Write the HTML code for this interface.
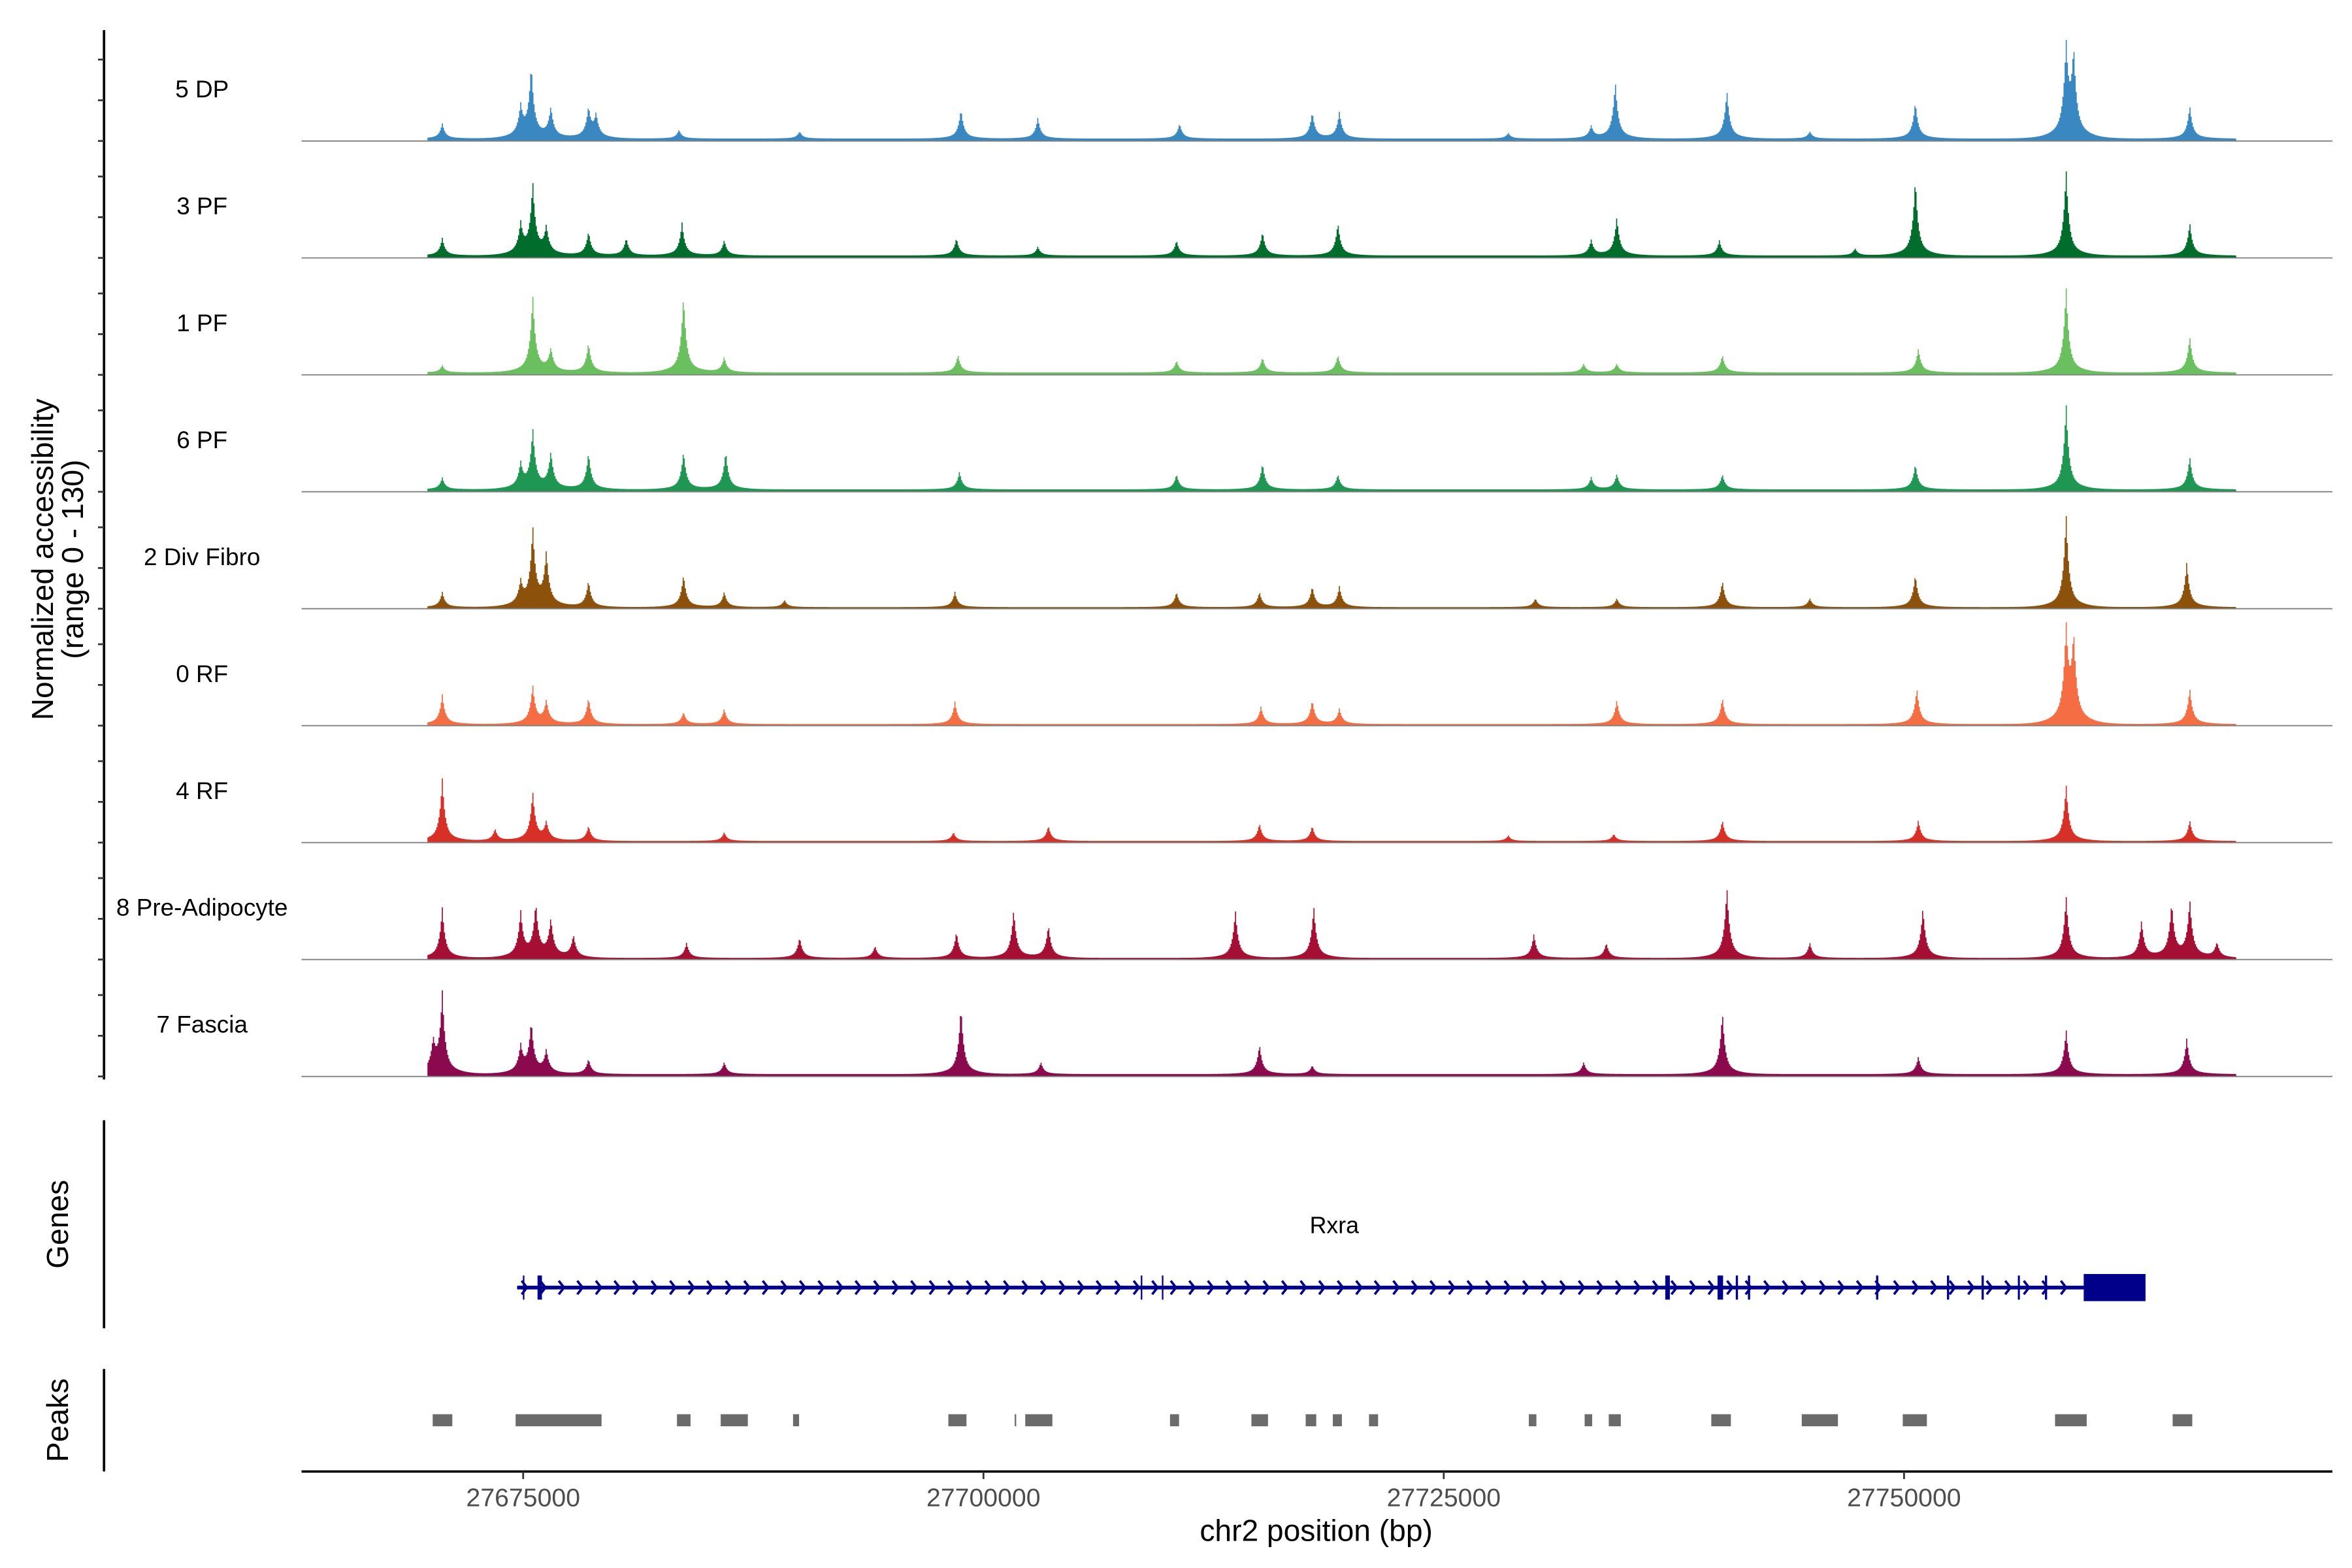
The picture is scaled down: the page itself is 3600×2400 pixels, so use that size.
<!DOCTYPE html>
<html><head><meta charset="utf-8"><style>
html,body{margin:0;padding:0;background:#fff}
svg{display:block}
text{font-family:"Liberation Sans",Arial,sans-serif}
</style></head><body>
<svg id="chart" xmlns="http://www.w3.org/2000/svg" width="3600" height="2400" viewBox="0 0 1560 1040" preserveAspectRatio="none">
<g id="tracks"></g>
<g id="yaxis"></g>
<text transform="translate(35,371) rotate(-90)" text-anchor="middle" font-size="20">Normalized accessibility</text>
<text transform="translate(55,371) rotate(-90)" text-anchor="middle" font-size="20">(range 0 - 130)</text>
<g id="genes"></g>
<text transform="translate(45,812) rotate(-90)" text-anchor="middle" font-size="20">Genes</text>
<line x1="69" y1="743" x2="69" y2="881" stroke="#000" stroke-width="1.6"/>
<g id="peaks"></g>
<text transform="translate(45,942) rotate(-90)" text-anchor="middle" font-size="20">Peaks</text>
<line x1="69" y1="908" x2="69" y2="976" stroke="#000" stroke-width="1.6"/>
<g id="xaxis"></g>
<text x="873" y="1022" text-anchor="middle" font-size="20">chr2 position (bp)</text>
</svg>
<script>
// ---- data ----
const trackNames = ["5 DP","3 PF","1 PF","6 PF","2 Div Fibro","0 RF","4 RF","8 Pre-Adipocyte","7 Fascia"];
const trackColors = ["#3a88c2","#006d2c","#6abf5f","#1f9651","#8c510a","#f46d43","#d73027","#a50f34","#8b0a4e"];
const regionStart = 27668000;
const regionEnd = 27768300;
const xTicks = [27675000,27700000,27725000,27750000];
const yMax = 130;
// peak centres (bp) and heights (normalized accessibility) per track
const pos0 = [27670578,27675409,27674836,27676474,27678521,27678931,27683434,27689986,27698749,27702924,27710622,27717828,27719303,27734288,27732978,27740349,27750584,27758773,27759182,27765489,27728474,27744852];
const ht0  = [19,89,37,37,37,28,11,9,37,26,19,33,33,71,15,60,46,111,102,41,7,9];
const pos1 = [27670578,27675491,27674836,27676228,27678521,27680569,27683598,27685891,27698503,27702924,27710458,27715126,27719221,27734370,27732978,27739939,27750584,27758773,27765489,27747309];
const ht1  = [22,89,37,33,30,22,41,19,22,11,19,30,41,48,19,19,97,108,41,9];
const pos2 = [27670578,27675491,27676474,27678521,27683680,27685891,27698585,27710458,27715126,27719221,27732569,27734370,27740103,27750748,27758773,27765489];
const ht2  = [9,97,28,37,97,19,22,15,19,22,11,11,22,30,108,45];
const pos3 = [27670578,27675491,27674836,27676474,27678521,27683680,27685973,27698667,27710458,27715126,27719221,27732978,27734370,27740103,27750584,27758773,27765489];
const ht3  = [15,74,30,45,46,48,48,22,19,33,19,15,19,19,32,108,41];
const pos4 = [27670578,27675491,27676228,27674836,27678521,27683680,27685891,27689167,27698421,27710458,27714962,27717828,27719303,27729948,27734370,27740103,27750584,27758773,27765325,27744852];
const ht4  = [19,97,65,28,33,41,19,9,19,19,19,26,26,11,11,33,41,117,56,11];
const pos5 = [27670578,27675491,27676228,27678521,27683680,27685891,27698421,27715044,27717828,27719303,27734370,27740103,27750666,27758773,27759182,27765489];
const ht5  = [37,48,28,33,15,19,28,22,30,19,30,33,45,115,102,45];
const pos6 = [27670578,27673444,27675491,27676228,27678521,27685891,27698339,27703498,27714962,27717828,27728474,27734206,27740103,27750748,27758773,27765489];
const ht6  = [78,15,61,22,19,11,11,19,22,19,7,9,26,26,71,26];
const pos7 = [27670578,27674836,27675655,27676474,27677702,27683844,27689986,27698503,27701614,27703498,27713652,27717910,27729866,27733797,27740349,27750994,27758773,27762868,27764506,27765489,27766963,27694080,27744852];
const ht7  = [63,56,65,46,28,19,26,33,60,41,60,65,30,19,89,63,78,46,67,71,19,15,19];
const pos8 = [27670578,27670087,27675409,27674836,27676228,27678521,27685891,27698749,27703088,27714962,27717828,27732569,27740103,27750748,27758773,27765325];
const ht8  = [100,37,63,33,28,19,15,85,15,37,11,15,78,22,56,45];
const trackPos = [pos0,pos1,pos2,pos3,pos4,pos5,pos6,pos7,pos8];
const trackHt = [ht0,ht1,ht2,ht3,ht4,ht5,ht6,ht7,ht8];
const bgLevel = [3,3,3,3,2,2,2,2,3];
// gene Rxra
const geneStart = 27674672, geneEnd = 27763114;
const exonStarts = [27674985,27675780,27708545,27709690,27737030,27739870,27740860,27741520,27748480,27752330,27754210,27756180,27757650,27759757];
const exonEnds   = [27675015,27676020,27708605,27709750,27737280,27740170,27740980,27741640,27748600,27752450,27754330,27756290,27757770,27763114];
// peaks
const peakStarts = [27670087,27674590,27683353,27685728,27689658,27698093,27701696,27702269,27710131,27714553,27717500,27718975,27720940,27729621,27732651,27733961,27739530,27744443,27749929,27758200,27764588];
const peakEnds   = [27671152,27679258,27684090,27687202,27689986,27699076,27701778,27703743,27710622,27715454,27718074,27719467,27721432,27730031,27733060,27734616,27740594,27746408,27751239,27759920,27765653];

// ---- scales ----
const NS="http://www.w3.org/2000/svg";
const xPx0 = 347, pxPer = 305.3/25000;
function xs(bp){return xPx0 + (bp-27675000)*pxPer;}
const baseY0 = 93.5, pitch = 77.56, trackPx = 70;
function ys(i,v){return baseY0 + i*pitch - v/yMax*trackPx;}
function mk(tag,attrs,parent){const e=document.createElementNS(NS,tag);for(const k in attrs)e.setAttribute(k,attrs[k]);parent.appendChild(e);return e;}

const tracksG=document.getElementById('tracks');
const dataStart=27669800, dataEnd=27768000, bin=60;
trackNames.forEach((name,i)=>{
  const g=mk('g',{},tracksG);
  
  
  const lab=mk('text',{x:134,y:baseY0+i*pitch-29,'text-anchor':'middle','font-size':16},g);
  lab.textContent=name;
  
  
  let d='M'+xs(dataStart).toFixed(2)+' '+ys(i,0).toFixed(2);
  const P=trackPos[i],H=trackHt[i];
  for(let b=dataStart;b<=dataEnd;b+=bin){
    let v=bgLevel[i];
    for(let k=0;k<P.length;k++){const dd=Math.abs(b-P[k]);v+=H[k]*Math.exp(-dd/140)*0.8+H[k]*0.2*Math.exp(-dd/600);}
    v=Math.min(v,yMax);
    d+='L'+xs(b).toFixed(2)+' '+ys(i,v).toFixed(2)+'L'+xs(b+bin).toFixed(2)+' '+ys(i,v).toFixed(2);
  }
  d+='L'+xs(dataEnd+bin).toFixed(2)+' '+ys(i,0).toFixed(2)+'Z';
  const a=mk('path',{d:d,fill:trackColors[i]},g);
  
  
  const bl=mk('line',{x1:200,x2:1547,y1:ys(i,0),y2:ys(i,0),stroke:'#7f7f7f','stroke-width':0.8},g);
  
  
});

// y axis
const ya=document.getElementById('yaxis');
const yl=mk('line',{x1:69,x2:69,y1:20,y2:716,stroke:'#000','stroke-width':1.6},ya);


for(let i=0;i<9;i++){
  for(let j=0;j<3;j++){
    const y=baseY0+i*pitch-j*27;
    const t=mk('line',{x1:65,x2:69,y1:y,y2:y,stroke:'#333','stroke-width':1.2},ya);
    
    
  }
}

// genes
const gg=document.getElementById('genes');
const gl=mk('text',{x:885,y:818,'text-anchor':'middle','font-size':15.5},gg);
gl.textContent='Rxra';


const gline=mk('line',{x1:xs(geneStart),x2:xs(geneEnd),y1:854,y2:854,stroke:'#00008b','stroke-width':2.5},gg);


for(let x=xs(geneStart)+3;x<xs(exonStarts[exonStarts.length-1])-4;x+=12.3){
  const c=mk('path',{d:`M${x.toFixed(1)} 849.5L${(x+3.5).toFixed(1)} 854L${x.toFixed(1)} 858.5`,fill:'none',stroke:'#00008b','stroke-width':1.6},gg);
  
  
}
exonStarts.forEach((s,k)=>{
  const x1=xs(s),x2=xs(exonEnds[k]);
  const w=Math.max(x2-x1,1);
  const big=k===exonStarts.length-1;
  const r=mk('rect',{x:x1,y:big?845:846,width:w,height:big?18:16,fill:'#00008b'},gg);
  
  
});

// peaks
const pg=document.getElementById('peaks');
peakStarts.forEach((s,k)=>{
  const x1=xs(s),x2=xs(peakEnds[k]);
  const r=mk('rect',{x:x1,y:938,width:Math.max(x2-x1,1),height:8,fill:'#6b6b6b'},pg);
  
  
});

// x axis
const xa=document.getElementById('xaxis');
const xl=mk('line',{x1:200,x2:1547,y1:976,y2:976,stroke:'#000','stroke-width':1.6},xa);


xTicks.forEach(t=>{
  const x=xs(t);
  const tk=mk('line',{x1:x,x2:x,y1:976,y2:981,stroke:'#333','stroke-width':1.2},xa);
  
  
  const tl=mk('text',{x:x,y:999,'text-anchor':'middle','font-size':17,fill:'#4d4d4d'},xa);
  tl.textContent=String(t);
  
  
});
</script>
</body></html>
